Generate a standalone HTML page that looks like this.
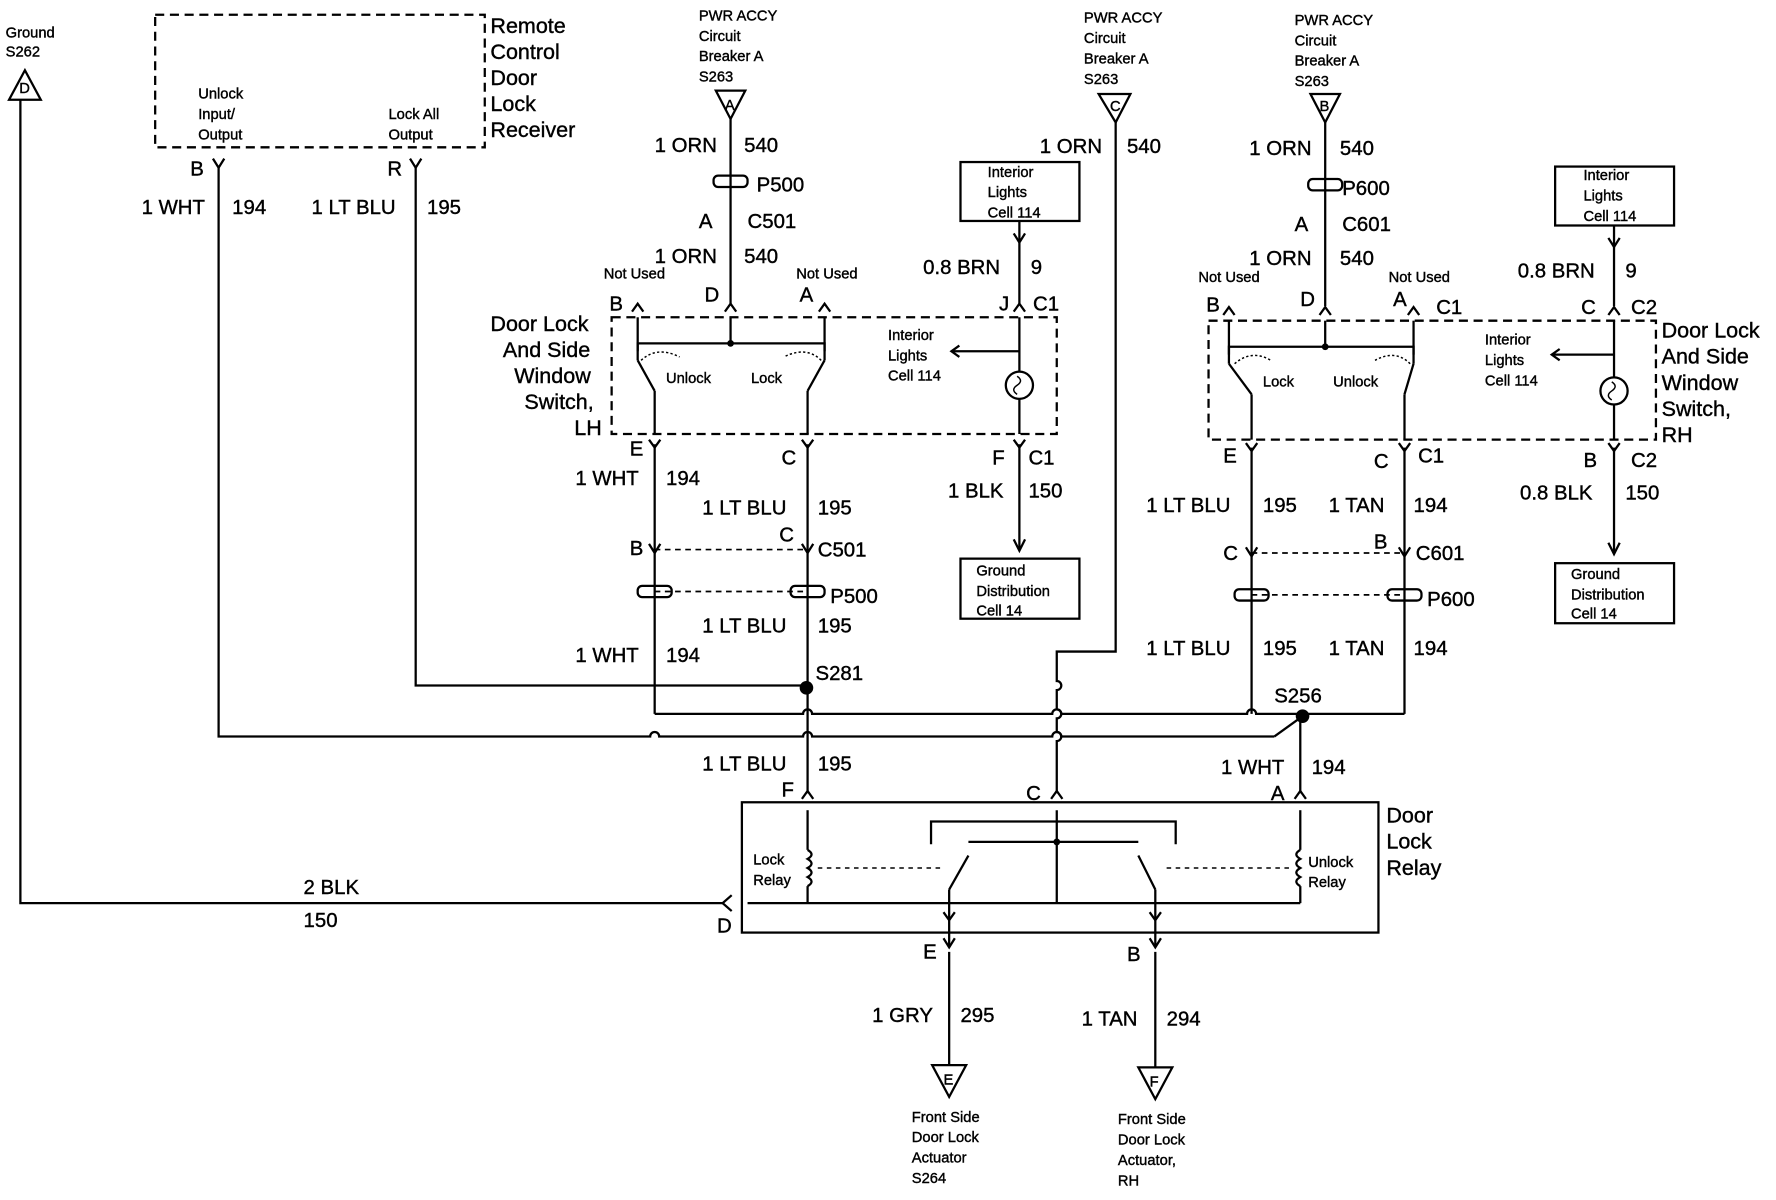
<!DOCTYPE html>
<html><head><meta charset="utf-8"><style>
html,body{margin:0;padding:0;background:#fff}
svg{display:block}
text{font-family:"Liberation Sans",sans-serif;fill:#000;stroke:#000;stroke-width:0.35}
.s{font-size:13px}
.m{font-size:18px}
.l{font-size:19px}
</style></head><body>
<svg width="1776" height="1200" viewBox="0 0 1568 1059" preserveAspectRatio="none" xmlns="http://www.w3.org/2000/svg">
<g stroke="#000" stroke-width="2" fill="none">
<!-- ground D -->
<polygon points="8,88 36,88 22,62"/>
<polyline points="18,88 18,797 638,797"/>
<polyline points="646,790 638,797 646,804"/>
<!-- remote box -->
<rect x="137" y="13" width="291" height="117" stroke-dasharray="8,5"/>
<path d="M193,148 L193,650 L574,650 A4,4 0 0 1 582,650 L709,650 A4,4 0 0 1 717,650 L929,650 A4,4 0 0 1 937,650 L1125,650"/>
<polyline points="367,148 367,605 712,605"/>
<!-- left column -->
<polygon points="632,80 658,80 645,105"/>
<line x1="645" y1="105" x2="645" y2="268"/>
<rect x="630" y="155" width="30" height="10" rx="4"/>
<rect x="540" y="280" width="393" height="103" stroke-dasharray="8,5"/>
<line x1="563" y1="280" x2="563" y2="318"/>
<line x1="578" y1="345" x2="578" y2="383"/>
<line x1="563" y1="318" x2="578" y2="345"/>
<line x1="728" y1="280" x2="728" y2="318"/>
<line x1="713" y1="345" x2="713" y2="383"/>
<line x1="728" y1="318" x2="713" y2="345"/>
<polyline points="563,310 563,303 728,303 728,310"/>
<line x1="645" y1="280" x2="645" y2="303"/>
<path d="M566,318 Q580,305 600,315 M725,318 Q712,305 692,315" stroke-dasharray="2,2" stroke-width="1.3"/>
<line x1="578" y1="392" x2="578" y2="630"/>
<line x1="713" y1="392" x2="713" y2="700"/>
<line x1="578" y1="485" x2="713" y2="485" stroke-dasharray="5,4" stroke-width="1.5"/>
<line x1="578" y1="522" x2="713" y2="522" stroke-dasharray="5,4" stroke-width="1.5"/>
<rect x="563" y="517" width="30" height="10" rx="4"/>
<rect x="698" y="517" width="30" height="10" rx="4"/>
<line x1="900" y1="195" x2="900" y2="268"/>
<polyline points="895,206 900,214 905,206"/>
<line x1="900" y1="280" x2="900" y2="328"/>
<line x1="900" y1="352" x2="900" y2="383"/>
<line x1="900" y1="392" x2="900" y2="485"/>
<polyline points="895,476 900,486 905,476"/>
<rect x="848" y="143" width="105" height="52"/>
<rect x="848" y="493" width="105" height="53"/>
<line x1="900" y1="310" x2="840" y2="310"/>
<polyline points="847,305 840,310 847,315"/>
<circle cx="900" cy="340" r="12"/>
<path d="M898,332 q6,4 0,8 q-6,4 0,8" stroke-width="1.3"/>
<!-- middle wire -->
<polygon points="970,83 998,83 985,108"/>
<path d="M985,108 L985,575 L933,575 L933,601 A4,4 0 0 1 933,609 L933,626 A4,4 0 0 1 933,634 L933,646 A4,4 0 0 1 933,654 L933,700"/>
<path d="M578,630 L709,630 A4,4 0 0 1 717,630 L929,630 A4,4 0 0 1 937,630 L1101,630 A4,4 0 0 1 1109,630 L1240,630"/>
<polyline points="1150,632 1125,650"/>
<line x1="1148" y1="632" x2="1148" y2="700"/>
<!-- right column -->
<polygon points="1157,83 1183,83 1170,108"/>
<line x1="1170" y1="108" x2="1170" y2="270"/>
<rect x="1155" y="158" width="30" height="10" rx="4"/>
<rect x="1067" y="283" width="395" height="105" stroke-dasharray="8,5"/>
<line x1="1085" y1="283" x2="1085" y2="321"/>
<line x1="1105" y1="348" x2="1105" y2="388"/>
<line x1="1085" y1="321" x2="1105" y2="348"/>
<line x1="1248" y1="283" x2="1248" y2="321"/>
<line x1="1240" y1="348" x2="1240" y2="388"/>
<line x1="1248" y1="321" x2="1240" y2="348"/>
<polyline points="1085,313 1085,306 1248,306 1248,313"/>
<line x1="1170" y1="283" x2="1170" y2="306"/>
<path d="M1090,321 Q1105,308 1122,318 M1245,321 Q1232,308 1214,318" stroke-dasharray="2,2" stroke-width="1.3"/>
<line x1="1105" y1="395" x2="1105" y2="630"/>
<line x1="1240" y1="395" x2="1240" y2="630"/>
<line x1="1105" y1="488" x2="1240" y2="488" stroke-dasharray="5,4" stroke-width="1.5"/>
<line x1="1105" y1="525" x2="1240" y2="525" stroke-dasharray="5,4" stroke-width="1.5"/>
<rect x="1090" y="520" width="30" height="10" rx="4"/>
<rect x="1225" y="520" width="30" height="10" rx="4"/>
<rect x="1373" y="147" width="105" height="52"/>
<rect x="1373" y="497" width="105" height="53"/>
<line x1="1425" y1="199" x2="1425" y2="270"/>
<polyline points="1420,210 1425,218 1430,210"/>
<line x1="1425" y1="283" x2="1425" y2="333"/>
<line x1="1425" y1="357" x2="1425" y2="388"/>
<line x1="1425" y1="395" x2="1425" y2="488"/>
<polyline points="1420,479 1425,489 1430,479"/>
<line x1="1425" y1="313" x2="1370" y2="313"/>
<polyline points="1377,308 1370,313 1377,318"/>
<circle cx="1425" cy="345" r="12"/>
<path d="M1423,337 q6,4 0,8 q-6,4 0,8" stroke-width="1.3"/>
<!-- connector marks -->
<path d="M188,140 L193,148 L198,140 M362,140 L367,148 L372,140"/>
<path d="M558,275 L563,268 L568,275 M640,275 L645,268 L650,275 M723,275 L728,268 L733,275 M895,275 L900,268 L905,275"/>
<path d="M573,388 L578,395 L583,388 M708,388 L713,395 L718,388 M895,388 L900,395 L905,388"/>
<path d="M573,480 L578,488 L583,480 M708,480 L713,488 L718,480"/>
<path d="M1080,278 L1085,271 L1090,278 M1165,278 L1170,271 L1175,278 M1243,278 L1248,271 L1253,278 M1420,278 L1425,271 L1430,278"/>
<path d="M1100,391 L1105,398 L1110,391 M1235,391 L1240,398 L1245,391 M1420,391 L1425,398 L1430,391"/>
<path d="M1100,483 L1105,491 L1110,483 M1235,483 L1240,491 L1245,483"/>
<path d="M708,705 L713,698 L718,705 M928,705 L933,698 L938,705 M1143,705 L1148,698 L1153,705"/>
<path d="M833,828 L838,836 L843,828 M1015,828 L1020,836 L1025,828"/>
<!-- relay -->
<rect x="655" y="708" width="562" height="115"/>
<line x1="713" y1="715" x2="713" y2="750"/>
<path d="M713,750 q7,4 0,8 q7,4 0,8 q7,4 0,8 q7,4 0,8"/>
<line x1="713" y1="782" x2="713" y2="797"/>
<line x1="1148" y1="715" x2="1148" y2="750"/>
<path d="M1148,750 q-7,4 0,8 q-7,4 0,8 q-7,4 0,8 q-7,4 0,8"/>
<line x1="1148" y1="782" x2="1148" y2="797"/>
<line x1="660" y1="797" x2="1148" y2="797"/>
<line x1="722" y1="766" x2="830" y2="766" stroke-dasharray="4,4" stroke-width="1.3"/>
<line x1="1030" y1="766" x2="1138" y2="766" stroke-dasharray="4,4" stroke-width="1.3"/>
<line x1="855" y1="743" x2="1005" y2="743"/>
<line x1="933" y1="715" x2="933" y2="797"/>
<polyline points="822,745 822,725 1038,725 1038,745"/>
<line x1="838" y1="785" x2="855" y2="755"/>
<line x1="1020" y1="785" x2="1005" y2="755"/>
<line x1="838" y1="785" x2="838" y2="835"/>
<line x1="1020" y1="785" x2="1020" y2="835"/>
<path d="M833,805 L838,812 L843,805 M1015,805 L1020,812 L1025,805"/>
<line x1="838" y1="840" x2="838" y2="940"/>
<line x1="1020" y1="840" x2="1020" y2="942"/>
<polygon points="823,940 853,940 838,968"/>
<polygon points="1005,942 1035,942 1020,970"/>
</g>
<g fill="#000">
<circle cx="712" cy="607" r="6"/><circle cx="1150" cy="632" r="6"/>
<circle cx="645" cy="303" r="3"/><circle cx="1170" cy="306" r="3"/>
<circle cx="933" cy="743" r="3"/>
</g>
<text class="s" x="5" y="33">Ground</text><text class="s" x="5" y="50">S262</text>
<text class="s" x="17" y="82">D</text>
<text class="s" x="175" y="87">Unlock</text><text class="s" x="175" y="105">Input/</text><text class="s" x="175" y="123">Output</text>
<text class="s" x="343" y="105">Lock All</text><text class="s" x="343" y="123">Output</text>
<text class="l" x="433" y="29">Remote</text><text class="l" x="433" y="52">Control</text><text class="l" x="433" y="75">Door</text><text class="l" x="433" y="98">Lock</text><text class="l" x="433" y="121">Receiver</text>
<text class="m" x="168" y="155">B</text><text class="m" x="342" y="155">R</text>
<text class="m" x="125" y="189">1 WHT</text><text class="m" x="205" y="189">194</text>
<text class="m" x="275" y="189">1 LT BLU</text><text class="m" x="377" y="189">195</text>
<text class="m" x="268" y="789">2 BLK</text><text class="m" x="268" y="818">150</text>
<text class="m" x="633" y="823">D</text>
<text class="s" x="617" y="18">PWR ACCY</text><text class="s" x="617" y="36">Circuit</text><text class="s" x="617" y="54">Breaker A</text><text class="s" x="617" y="72">S263</text>
<text class="s" x="640" y="97">A</text>
<text class="m" x="578" y="134">1 ORN</text><text class="m" x="657" y="134">540</text>
<text class="m" x="668" y="169">P500</text>
<text class="m" x="617" y="201">A</text><text class="m" x="660" y="201">C501</text>
<text class="m" x="578" y="232">1 ORN</text><text class="m" x="657" y="232">540</text>
<text class="s" x="533" y="246">Not Used</text><text class="s" x="703" y="246">Not Used</text>
<text class="m" x="538" y="274">B</text><text class="m" x="622" y="266">D</text><text class="m" x="706" y="266">A</text>
<text class="m" x="882" y="274">J</text><text class="m" x="912" y="274">C1</text>
<text class="l" x="433" y="292">Door Lock</text><text class="l" x="444" y="315">And Side</text><text class="l" x="454" y="338">Window</text><text class="l" x="463" y="361">Switch,</text><text class="l" x="507" y="384">LH</text>
<text class="s" x="588" y="338">Unlock</text><text class="s" x="663" y="338">Lock</text>
<text class="s" x="784" y="300">Interior</text><text class="s" x="784" y="318">Lights</text><text class="s" x="784" y="336">Cell 114</text>
<text class="m" x="556" y="402">E</text><text class="m" x="690" y="410">C</text><text class="m" x="876" y="410">F</text><text class="m" x="908" y="410">C1</text>
<text class="m" x="508" y="428">1 WHT</text><text class="m" x="588" y="428">194</text>
<text class="m" x="620" y="454">1 LT BLU</text><text class="m" x="722" y="454">195</text>
<text class="m" x="837" y="439">1 BLK</text><text class="m" x="908" y="439">150</text>
<text class="m" x="688" y="478">C</text><text class="m" x="556" y="490">B</text><text class="m" x="722" y="491">C501</text>
<text class="m" x="733" y="532">P500</text>
<text class="m" x="620" y="558">1 LT BLU</text><text class="m" x="722" y="558">195</text>
<text class="m" x="508" y="584">1 WHT</text><text class="m" x="588" y="584">194</text>
<text class="m" x="720" y="600">S281</text>
<text class="s" x="872" y="156">Interior</text><text class="s" x="872" y="174">Lights</text><text class="s" x="872" y="192">Cell 114</text>
<text class="m" x="815" y="242">0.8 BRN</text><text class="m" x="910" y="242">9</text>
<text class="s" x="862" y="508">Ground</text><text class="s" x="862" y="526">Distribution</text><text class="s" x="862" y="543">Cell 14</text>
<text class="s" x="957" y="20">PWR ACCY</text><text class="s" x="957" y="38">Circuit</text><text class="s" x="957" y="56">Breaker A</text><text class="s" x="957" y="74">S263</text>
<text class="s" x="980" y="98">C</text>
<text class="m" x="918" y="135">1 ORN</text><text class="m" x="995" y="135">540</text>
<text class="s" x="1143" y="22">PWR ACCY</text><text class="s" x="1143" y="40">Circuit</text><text class="s" x="1143" y="58">Breaker A</text><text class="s" x="1143" y="76">S263</text>
<text class="s" x="1165" y="98">B</text>
<text class="m" x="1103" y="137">1 ORN</text><text class="m" x="1183" y="137">540</text>
<text class="m" x="1185" y="172">P600</text>
<text class="m" x="1143" y="204">A</text><text class="m" x="1185" y="204">C601</text>
<text class="m" x="1103" y="234">1 ORN</text><text class="m" x="1183" y="234">540</text>
<text class="s" x="1058" y="249">Not Used</text><text class="s" x="1226" y="249">Not Used</text>
<text class="m" x="1065" y="275">B</text><text class="m" x="1148" y="270">D</text><text class="m" x="1230" y="270">A</text><text class="m" x="1268" y="277">C1</text>
<text class="m" x="1396" y="277">C</text><text class="m" x="1440" y="277">C2</text>
<text class="s" x="1398" y="159">Interior</text><text class="s" x="1398" y="177">Lights</text><text class="s" x="1398" y="195">Cell 114</text>
<text class="m" x="1340" y="245">0.8 BRN</text><text class="m" x="1435" y="245">9</text>
<text class="s" x="1115" y="341">Lock</text><text class="s" x="1177" y="341">Unlock</text>
<text class="s" x="1311" y="304">Interior</text><text class="s" x="1311" y="322">Lights</text><text class="s" x="1311" y="340">Cell 114</text>
<text class="l" x="1467" y="298">Door Lock</text><text class="l" x="1467" y="321">And Side</text><text class="l" x="1467" y="344">Window</text><text class="l" x="1467" y="367">Switch,</text><text class="l" x="1467" y="390">RH</text>
<text class="m" x="1080" y="408">E</text><text class="m" x="1213" y="413">C</text><text class="m" x="1252" y="408">C1</text>
<text class="m" x="1398" y="412">B</text><text class="m" x="1440" y="412">C2</text>
<text class="m" x="1012" y="452">1 LT BLU</text><text class="m" x="1115" y="452">195</text>
<text class="m" x="1173" y="452">1 TAN</text><text class="m" x="1248" y="452">194</text>
<text class="m" x="1342" y="441">0.8 BLK</text><text class="m" x="1435" y="441">150</text>
<text class="m" x="1213" y="484">B</text><text class="m" x="1080" y="494">C</text><text class="m" x="1250" y="494">C601</text>
<text class="m" x="1260" y="535">P600</text>
<text class="s" x="1387" y="511">Ground</text><text class="s" x="1387" y="529">Distribution</text><text class="s" x="1387" y="546">Cell 14</text>
<text class="m" x="1012" y="578">1 LT BLU</text><text class="m" x="1115" y="578">195</text>
<text class="m" x="1173" y="578">1 TAN</text><text class="m" x="1248" y="578">194</text>
<text class="m" x="1125" y="620">S256</text>
<text class="m" x="620" y="680">1 LT BLU</text><text class="m" x="722" y="680">195</text>
<text class="m" x="1078" y="683">1 WHT</text><text class="m" x="1158" y="683">194</text>
<text class="m" x="690" y="703">F</text><text class="m" x="906" y="706">C</text><text class="m" x="1122" y="706">A</text>
<text class="l" x="1224" y="726">Door</text><text class="l" x="1224" y="749">Lock</text><text class="l" x="1224" y="772">Relay</text>
<text class="s" x="665" y="763">Lock</text><text class="s" x="665" y="781">Relay</text>
<text class="s" x="1155" y="765">Unlock</text><text class="s" x="1155" y="783">Relay</text>
<text class="m" x="815" y="846">E</text><text class="m" x="995" y="848">B</text>
<text class="m" x="770" y="902">1 GRY</text><text class="m" x="848" y="902">295</text>
<text class="m" x="955" y="905">1 TAN</text><text class="m" x="1030" y="905">294</text>
<text class="s" x="833" y="957">E</text><text class="s" x="1015" y="959">F</text>
<text class="s" x="805" y="990">Front Side</text><text class="s" x="805" y="1008">Door Lock</text><text class="s" x="805" y="1026">Actuator</text><text class="s" x="805" y="1044">S264</text>
<text class="s" x="987" y="992">Front Side</text><text class="s" x="987" y="1010">Door Lock</text><text class="s" x="987" y="1028">Actuator,</text><text class="s" x="987" y="1046">RH</text>
</svg>
</body></html>
